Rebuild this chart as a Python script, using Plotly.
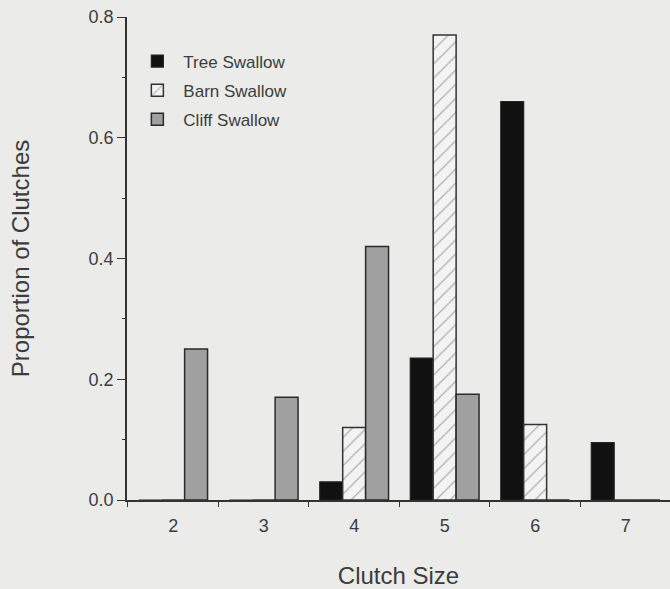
import plotly.graph_objects as go

categories = ["2", "3", "4", "5", "6", "7"]
tree_swallow = [0.0, 0.0, 0.03, 0.235, 0.66, 0.095]
barn_swallow = [0.0, 0.0, 0.12, 0.77, 0.125, 0.0]
cliff_swallow = [0.25, 0.17, 0.42, 0.175, 0.0, 0.0]
series_names = ["Tree Swallow", "Barn Swallow", "Cliff Swallow"]
y_ticks = [0.0, 0.2, 0.4, 0.6, 0.8]

FONT = "Liberation Sans, Arial, sans-serif"
BG = "#ebebea"
INK = "#333333"
TEXT = "#3c3c3c"

fig = go.Figure()
fig.add_trace(go.Bar(
    x=categories, y=tree_swallow, name=series_names[0], legendgroup="a",
    marker=dict(color="#111111", line=dict(color="#222222", width=1.2)),
))
fig.add_trace(go.Bar(
    x=categories, y=barn_swallow, name=series_names[1], legendgroup="b",
    marker=dict(color="#f3f3f3", line=dict(color="#333333", width=1.5),
                pattern=dict(shape="/", fgcolor="#666666", bgcolor="#f3f3f3",
                             size=10, solidity=0.12)),
))
fig.add_trace(go.Bar(
    x=categories, y=cliff_swallow, name=series_names[2], legendgroup="c",
    marker=dict(color="#a0a0a0", line=dict(color="#2a2a2a", width=1.5)),
))

fig.update_layout(
    width=670, height=589,
    margin=dict(l=127, r=0, t=17, b=89),
    paper_bgcolor=BG, plot_bgcolor=BG,
    barmode="group", bargap=0.24, bargroupgap=0,
    font=dict(family=FONT, color=TEXT, size=18),
    legend=dict(x=0.008, y=0.945, xanchor="left", yanchor="top",
                bgcolor="rgba(0,0,0,0)", font=dict(size=17, color=TEXT),
                traceorder="grouped", tracegroupgap=4, itemwidth=42),
    showlegend=True,
)
fig.update_xaxes(
    type="category", range=[-0.51, 5.49],
    showline=True, linecolor=INK, linewidth=1.5,
    ticks="outside", tickson="boundaries", ticklen=5, tickcolor=INK, tickwidth=1.2,
    showgrid=False, zeroline=False,
    tickfont=dict(size=18), ticklabelstandoff=9,
    title=dict(text="Clutch Size", font=dict(size=24), standoff=32),
)
fig.update_yaxes(
    range=[0, 0.8], tickvals=y_ticks, tickformat=".1f",
    showline=True, linecolor=INK, linewidth=1.5,
    ticks="outside", ticklen=8, tickcolor=INK, tickwidth=1.2,
    minor=dict(dtick=0.1, ticks="outside", ticklen=3, tickcolor=INK, tickwidth=1),
    showgrid=False, zeroline=False,
    tickfont=dict(size=18),
    title=dict(text="Proportion of Clutches", font=dict(size=24), standoff=52),
)

fig.write_html(
    "out.html",
    config={"displayModeBar": False},
    post_script="document.body.style.margin='0';document.body.style.background='#ebebea';",
)
